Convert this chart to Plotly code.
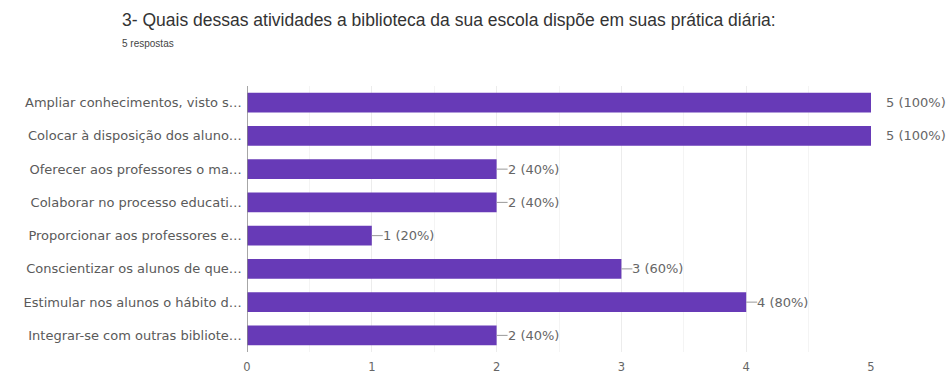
import plotly.graph_objects as go

categories = [
    "Ampliar conhecimentos, visto s…",
    "Colocar à disposição dos aluno…",
    "Oferecer aos professores o ma…",
    "Colaborar no processo educati…",
    "Proporcionar aos professores e…",
    "Conscientizar os alunos de que…",
    "Estimular nos alunos o hábito d…",
    "Integrar-se com outras bibliote…",
]
counts = [5, 5, 2, 2, 1, 3, 4, 2]
total = 5
title = "3- Quais dessas atividades a biblioteca da sua escola dispõe em suas prática diária:"
subtitle = "5 respostas"
x_ticks = [0, 1, 2, 3, 4, 5]

purple = "#673ab7"
title_font = "Liberation Sans, Arial, sans-serif"
small_font = "DejaVu Sans, Verdana, sans-serif"

L, R, T, B = 247, 81, 86, 24
W, H = 952, 376
pw, ph = W - L - R, H - T - B

fig = go.Figure()
fig.add_trace(go.Bar(
    y=categories, x=counts, orientation="h",
    marker=dict(color=purple, line=dict(width=0)),
    hoverinfo="x+y",
))

for cat, v in zip(categories, counts):
    label = f"{v} ({round(v / total * 100)}%)"
    if v >= 5:
        fig.add_annotation(x=v, y=cat, xref="x", yref="y", text=label,
                           showarrow=False, xanchor="left", xshift=13,
                           font=dict(family=small_font, size=13, color="#666666"))
    else:
        fig.add_shape(type="line", xref="x", yref="y", xsizemode="pixel",
                      xanchor=v, x0=0, x1=11, y0=cat, y1=cat,
                      line=dict(color="#999999", width=1))
        fig.add_annotation(x=v, y=cat, xref="x", yref="y", text=label,
                           showarrow=False, xanchor="left", xshift=9,
                           font=dict(family=small_font, size=13, color="#666666"))

fig.add_annotation(xref="paper", yref="paper", x=-(L - 120) / pw,
                   y=1 + (T - 20) / ph, text=title, showarrow=False,
                   xanchor="left", yanchor="middle",
                   font=dict(family=title_font, size=17.5, color="#333333"))
fig.add_annotation(xref="paper", yref="paper", x=-(L - 120) / pw,
                   y=1 + (T - 43) / ph, text=subtitle, showarrow=False,
                   xanchor="left", yanchor="middle",
                   font=dict(family=title_font, size=10, color="#444444"))

fig.add_shape(type="line", xref="x", yref="paper", x0=0, x1=0, y0=0, y1=1,
              line=dict(color="#888888", width=1.5))

fig.update_layout(
    width=W, height=H,
    margin=dict(l=L, r=R, t=T, b=B),
    paper_bgcolor="white", plot_bgcolor="white",
    showlegend=False,
    bargap=0.4,
    xaxis=dict(range=[0, 5], tickvals=x_ticks, ticktext=[str(t) for t in x_ticks],
               showgrid=True, gridcolor="#ececec", gridwidth=1,
               minor=dict(dtick=0.5, showgrid=True, gridcolor="#f4f4f4"),
               zeroline=False, showline=False, ticks="",
               ticklabelstandoff=6, automargin=False,
               tickfont=dict(family=small_font, size=11.5, color="#666666"),
               fixedrange=True),
    yaxis=dict(autorange="reversed", showgrid=False, zeroline=False,
               showline=False, ticks="", ticksuffix=" ", automargin=False,
               tickfont=dict(family=small_font, size=13, color="#5a5a5a"),
               fixedrange=True),
)

fig.write_html("out.html")
